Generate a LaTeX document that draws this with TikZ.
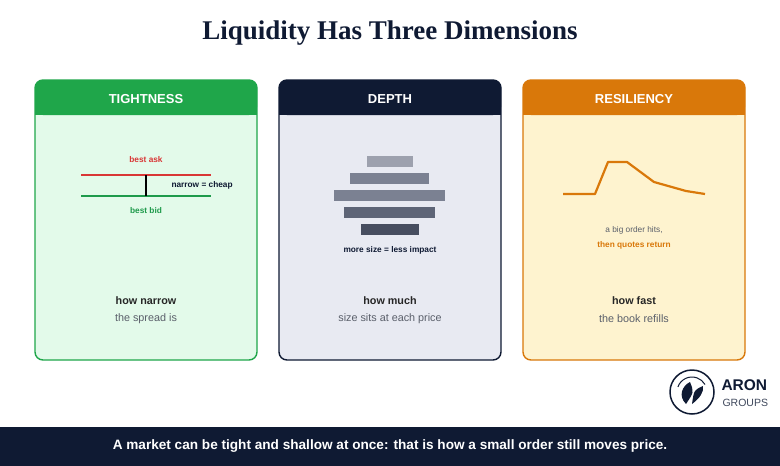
\documentclass[tikz,border=0pt]{standalone}
\usepackage{fontspec}
\setmainfont{Liberation Sans}
\newfontfamily\titlefont{Liberation Serif}
\usetikzlibrary{calc}
\definecolor{navy}{HTML}{0F1A33}
\definecolor{tgreen}{HTML}{1FA64A}
\definecolor{tgreenbg}{HTML}{E3FAEA}
\definecolor{dbg}{HTML}{E8EAF2}
\definecolor{rorange}{HTML}{D9780A}
\definecolor{rbg}{HTML}{FEF3CF}
\definecolor{askred}{HTML}{D93636}
\definecolor{bidgreen}{HTML}{1E9A4B}
\definecolor{txtgray}{HTML}{5A5F6A}
\definecolor{barA}{HTML}{9DA1AE}
\definecolor{barB}{HTML}{7B8192}
\definecolor{barC}{HTML}{5E6577}
\definecolor{barD}{HTML}{474E60}
\begin{document}
\begin{tikzpicture}[x=1pt, y=-1pt, font=\small]
  \tikzset{
    hdr/.style={font=\bfseries\fontsize{13}{15}\selectfont, text=white},
    what/.style={font=\bfseries\fontsize{10.8}{12}\selectfont, text=black!85},
    sub/.style={font=\fontsize{10.8}{12}\selectfont, text=txtgray},
    tiny/.style={font=\bfseries\fontsize{8.3}{10}\selectfont},
    bar/.style={fill=#1, draw=none}
  }
  \useasboundingbox (0,0) rectangle (780,466);
  \fill[white] (0,0) rectangle (780,466);

  \node[font=\titlefont\bfseries\fontsize{27}{30}\selectfont, text=navy] (title) at (390,33) {Liquidity Has Three Dimensions};

  % panels
  \def\panel#1#2#3#4#5#6#7{
    \draw[line width=1.4pt, draw=#2, fill=#3, rounded corners=8] (#1,80) rectangle ++(222,280);
    \fill[#2, rounded corners=8] (#1,80) rectangle ++(222,35);
    \fill[#2] (#1,105) rectangle ++(222,10);
    \node[hdr] (#7h) at (#1+111,99) {#4};
    \node[what] (#7w) at (#1+111,301) {#5};
    \node[sub] (#7s) at (#1+111,319) {#6};
  }
  \panel{35}{tgreen}{tgreenbg}{TIGHTNESS}{how narrow}{the spread is}{t}
  \panel{279}{navy}{dbg}{DEPTH}{how much}{size sits at each price}{d}
  \panel{523}{rorange}{rbg}{RESILIENCY}{how fast}{the book refills}{r}

  % tightness
  \draw[askred, line width=2.2pt] (81,175) -- (211,175);
  \draw[bidgreen, line width=2.2pt] (81,196) -- (211,196);
  \coordinate (ask) at (146,175);
  \coordinate (bid) at (146,196);
  \draw[black, line width=1.3pt] (ask) -- (bid);
  \node[tiny, text=askred] (bestask) at (146,160) {best ask};
  \node[tiny, text=bidgreen] (bestbid) at (146,211) {best bid};
  \node[tiny, text=navy, anchor=west] (narrow) at (168,185) {narrow = cheap};

  % depth
  \fill[bar=barA] (367,156) rectangle (413,167);
  \fill[bar=barB] (350,173) rectangle (429,184);
  \fill[bar=barB] (334,190) rectangle (445,201);
  \fill[bar=barC] (344,207) rectangle (435,218);
  \fill[bar=barD] (361,224) rectangle (419,235);
  \node[tiny, text=navy] (impact) at (390,250) {more size = less impact};

  % resiliency
  \draw[rorange, line width=2.2pt, line join=round]
    (563,194) -- (595,194) -- (608,162) -- (627,162) -- (654,182) -- (686,191) -- (705,194);
  \node[font=\fontsize{8.3}{10}\selectfont, text=txtgray] (hits) at (634,230) {a big order hits,};
  \node[tiny, text=rorange] (ret) at (634,245) {then quotes return};

  % logo
  \draw[navy, line width=1.5pt] (692,392) circle (22);
  \draw[navy, line width=1pt] (692,392) ++(200:15) arc (200:330:15);
  \fill[navy] (686,404) .. controls (678,396) and (682,386) .. (690,382) .. controls (694,392) .. (686,404);
  \fill[navy] (692,404) .. controls (700,398) and (704,392) .. (703,386) .. controls (694,390) .. (692,404);
  \node[font=\bfseries\fontsize{15.5}{17}\selectfont, text=navy, anchor=west] (aron) at (718,385) {ARON};
  \node[font=\fontsize{10.5}{12}\selectfont, text=navy!80, anchor=west] (groups) at (719,403) {GROUPS};

  % footer
  \fill[navy] (0,427) rectangle (780,466);
  \node[font=\bfseries\fontsize{13.6}{15}\selectfont, text=white] (foot) at (390,446)
    {A market can be tight and shallow at once: that is how a small order still moves price.};
\end{tikzpicture}
\end{document}
